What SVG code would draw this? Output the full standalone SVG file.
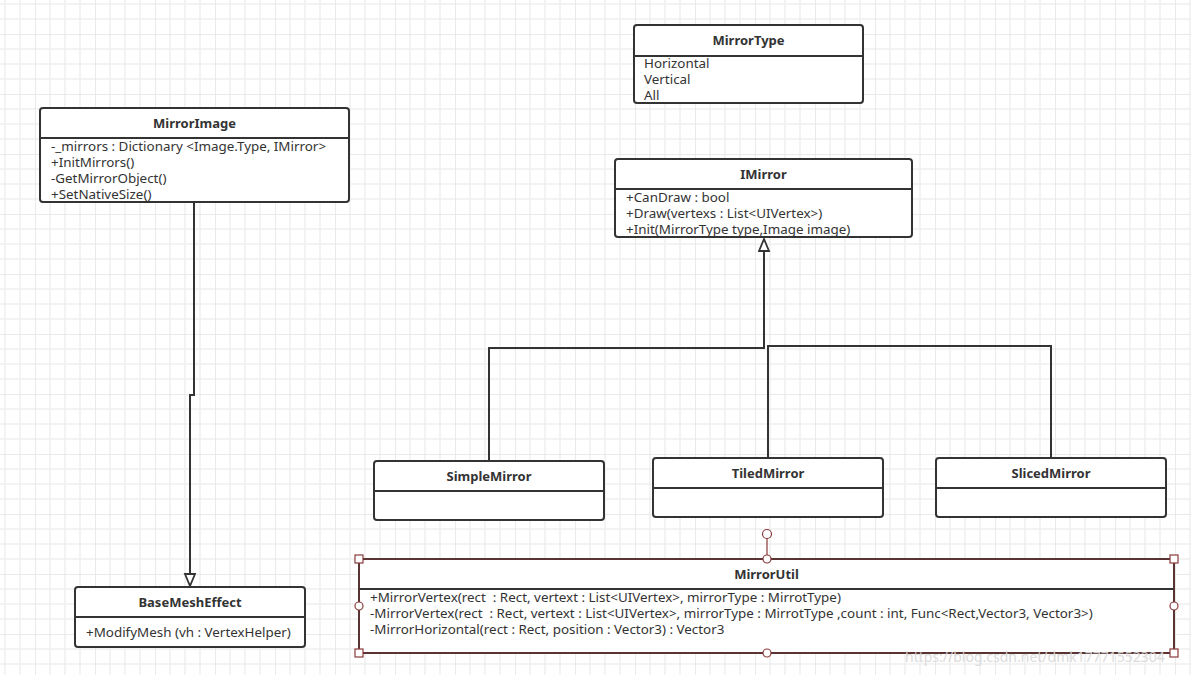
<svg xmlns="http://www.w3.org/2000/svg" width="1191" height="675" viewBox="0 0 1191 675">
<style>
.box{fill:#fff;stroke:#333;stroke-width:2}
.sep{stroke:#333;stroke-width:2}
.t{font-family:"Noto Sans","Liberation Sans",sans-serif;font-size:13px;font-weight:bold;fill:#333;text-anchor:middle}
.m{font-family:"Noto Sans","Liberation Sans",sans-serif;font-size:13.4px;fill:#333;white-space:pre}
.c{fill:none;stroke:#333;stroke-width:2}
.sel{fill:#fff;stroke:#8a3a3a;stroke-width:1.2}
</style>
<defs>
<pattern id="g" x="35" y="34" width="60" height="60" patternUnits="userSpaceOnUse">
<path d="M15 0V60M30 0V60M45 0V60M0 15H60M0 30H60M0 45H60" stroke="#efefef" stroke-width="1.5" fill="none"/>
<path d="M0 0V60M0 0H60" stroke="#e4e4e4" stroke-width="1.5" fill="none"/>
</pattern>
<marker id="tri" markerWidth="14" markerHeight="14" refX="13" refY="6" orient="auto" markerUnits="userSpaceOnUse">
<path d="M1 1L13 6L1 11Z" fill="#fff" stroke="#333" stroke-width="1.8"/>
</marker>
</defs>
<rect width="1191" height="675" fill="#fff"/>
<rect width="1191" height="675" fill="url(#g)"/>

<g id="connectors">
<path class="c" d="M194 202V395H190V586" marker-end="url(#tri)"/>
<path class="c" d="M489 461V348H764V239" marker-end="url(#tri)"/>
<path class="c" d="M768 458V346H1051V458"/>
</g>

<g id="MirrorType">
<rect class="box" x="634" y="25" width="229" height="78" rx="3"/>
<line class="sep" x1="634" y1="56" x2="863" y2="56"/>
<text class="t" x="748.5" y="45">MirrorType</text>
<text class="m" x="644" y="68">Horizontal</text>
<text class="m" x="644" y="84">Vertical</text>
<text class="m" x="644" y="100">All</text>
</g>

<g id="MirrorImage">
<rect class="box" x="40" y="108" width="309" height="94" rx="3"/>
<line class="sep" x1="40" y1="138" x2="349" y2="138"/>
<text class="t" x="194.5" y="128">MirrorImage</text>
<text class="m" x="51" y="151">-_mirrors : Dictionary &lt;Image.Type, IMirror&gt;</text>
<text class="m" x="51" y="167">+InitMirrors()</text>
<text class="m" x="51" y="183">-GetMirrorObject()</text>
<text class="m" x="51" y="199">+SetNativeSize()</text>
</g>

<g id="IMirror">
<rect class="box" x="615" y="159" width="297" height="78" rx="3"/>
<line class="sep" x1="615" y1="189" x2="912" y2="189"/>
<text class="t" x="763.5" y="179">IMirror</text>
<text class="m" x="626" y="202">+CanDraw : bool</text>
<text class="m" x="626" y="218">+Draw(vertexs : List&lt;UIVertex&gt;)</text>
<text class="m" x="626" y="234">+Init(MirrorType type,Image image)</text>
</g>

<g id="SimpleMirror">
<rect class="box" x="374" y="461" width="230" height="59" rx="3"/>
<line class="sep" x1="374" y1="491" x2="604" y2="491"/>
<text class="t" x="489" y="481">SimpleMirror</text>
</g>

<g id="TiledMirror">
<rect class="box" x="653" y="458" width="230" height="59" rx="3"/>
<line class="sep" x1="653" y1="488" x2="883" y2="488"/>
<text class="t" x="768" y="478">TiledMirror</text>
</g>

<g id="SlicedMirror">
<rect class="box" x="936" y="458" width="230" height="59" rx="3"/>
<line class="sep" x1="936" y1="488" x2="1166" y2="488"/>
<text class="t" x="1051" y="478">SlicedMirror</text>
</g>

<g id="BaseMeshEffect">
<rect class="box" x="75" y="587" width="230" height="60" rx="3"/>
<line class="sep" x1="75" y1="617" x2="305" y2="617"/>
<text class="t" x="190" y="607">BaseMeshEffect</text>
<text class="m" x="86" y="637">+ModifyMesh (vh : VertexHelper)</text>
</g>

<g id="MirrorUtil">
<rect x="359" y="559" width="815" height="94" fill="#fff" stroke="#5a3333" stroke-width="2"/>
<line x1="359" y1="589" x2="1174" y2="589" stroke="#333" stroke-width="2"/>
<text class="t" x="766.5" y="579">MirrorUtil</text>
<text class="m" x="370" y="602">+MirrorVertex(rect  : Rect, vertext : List&lt;UIVertex&gt;, mirrorType : MirrotType)</text>
<text class="m" x="370" y="618">-MirrorVertex(rect  : Rect, vertext : List&lt;UIVertex&gt;, mirrorType : MirrotType ,count : int, Func&lt;Rect,Vector3, Vector3&gt;)</text>
<text class="m" x="370" y="634">-MirrorHorizontal(rect : Rect, position : Vector3) : Vector3</text>
<line x1="767" y1="538" x2="767" y2="555" stroke="#8a3a3a" stroke-width="1.2"/>
<circle class="sel" cx="767" cy="534" r="4.5"/>
<circle class="sel" cx="767" cy="559" r="4"/>
<circle class="sel" cx="767" cy="653" r="4"/>
<circle class="sel" cx="359" cy="606" r="4"/>
<circle class="sel" cx="1174" cy="606" r="4"/>
<rect class="sel" x="355" y="555" width="8" height="8"/>
<rect class="sel" x="1170" y="555" width="8" height="8"/>
<rect class="sel" x="355" y="649" width="8" height="8"/>
<rect class="sel" x="1170" y="649" width="8" height="8"/>
</g>

<text x="905" y="662" font-family="Noto Sans,Liberation Sans,sans-serif" font-size="14" fill="#d8d8d8" opacity="0.9">https://blog.csdn.net/dmk17771552304</text>
</svg>
